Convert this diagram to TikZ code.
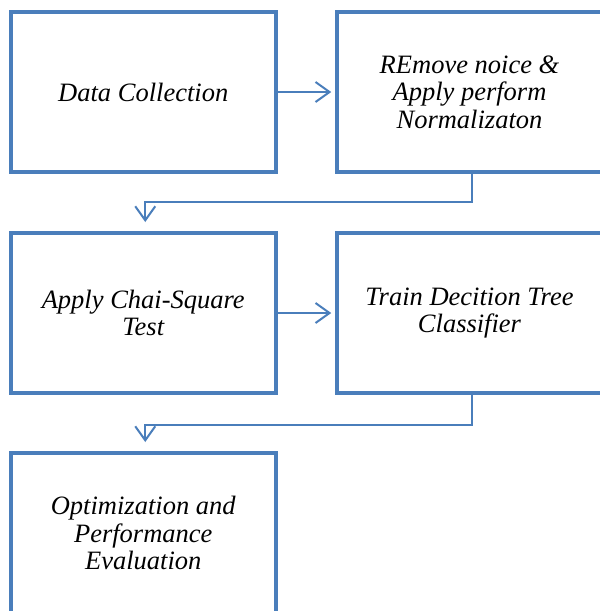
\documentclass[tikz,border=0pt]{standalone}
\usepackage{fontspec}
\setmainfont{Liberation Serif}
\usetikzlibrary{arrows.meta}
\definecolor{boxblue}{RGB}{74,126,187}
\begin{document}
\begin{tikzpicture}[x=1pt,y=-1pt,
  stepbox/.style={draw=boxblue, line width=4pt, fill=white, inner sep=0pt,
    minimum width=264.5pt, minimum height=160pt, align=center,
    font=\fontsize{26.5}{27.5}\selectfont\itshape},
  conn/.style={draw=boxblue, line width=2pt,
    -{Straight Barb[length=14pt,width=20pt,line width=2pt]}}]
\fill[white] (0,0) rectangle (600,611);
\useasboundingbox (0,0) rectangle (600,611);
\node[stepbox] (a) at (143.25,92) {Data Collection};
\node[stepbox] (b) at (469.5,92) {REmove noice \&\\Apply perform\\Normalizaton};
\node[stepbox] (c) at (143.25,313) {Apply Chai-Square\\Test};
\node[stepbox] (d) at (469.5,313) {Train Decition Tree\\Classifier};
\node[stepbox] (e) at (143.25,533) {Optimization and\\Performance\\Evaluation};
\coordinate (t1) at ([xshift=2pt,yshift=9pt]c.north);
\coordinate (t2) at ([xshift=2pt,yshift=9pt]e.north);
\draw[conn] (a.east) -- ([xshift=-4pt]b.west);
\draw[conn] (c.east) -- ([xshift=-4pt]d.west);
\draw[conn] ([xshift=2.5pt]b.south) -- ++(0pt,-28pt) -| (t1);
\draw[conn] ([xshift=2.5pt]d.south) -- ++(0pt,-30pt) -| (t2);
\end{tikzpicture}
\end{document}
